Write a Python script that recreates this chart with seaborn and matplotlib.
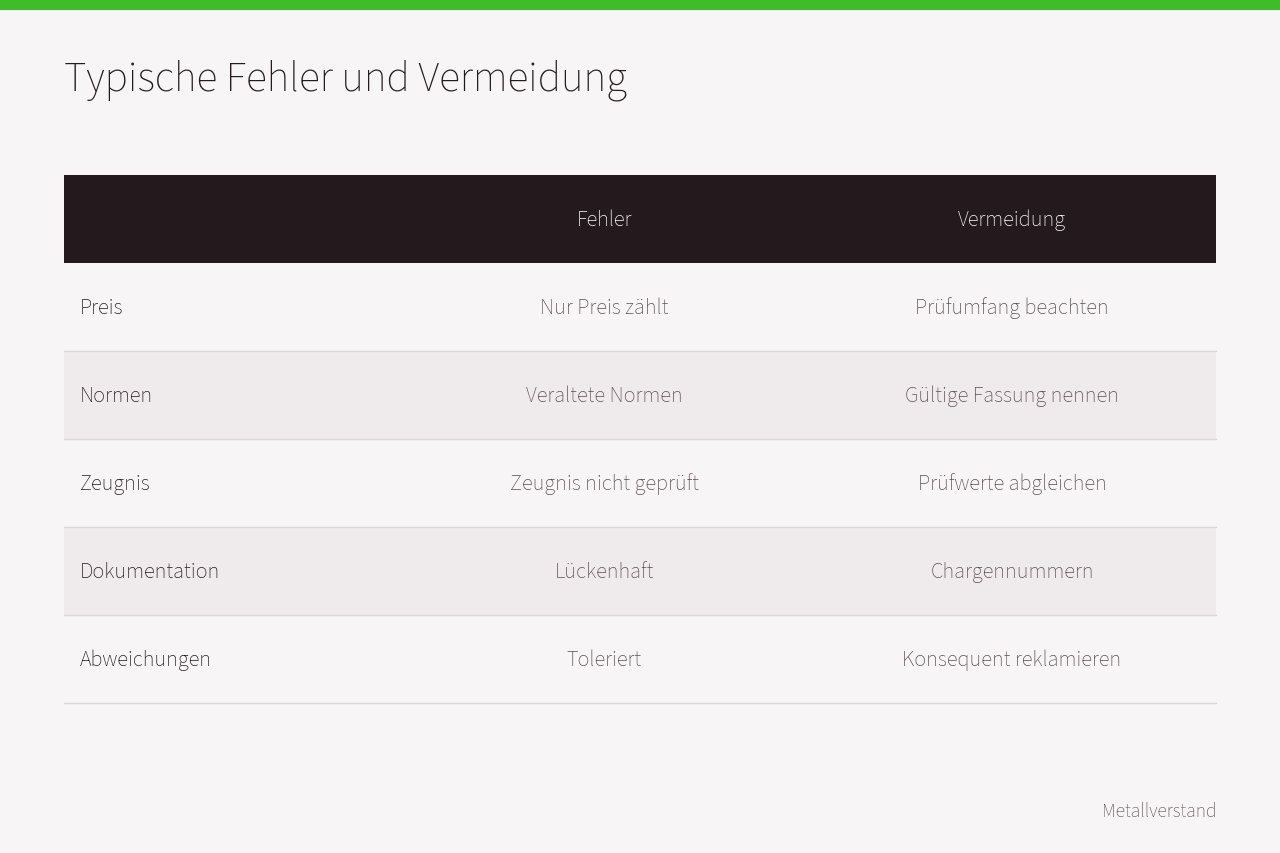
import matplotlib
matplotlib.use("Agg")
import matplotlib.pyplot as plt
import seaborn as sns
from matplotlib.patches import Rectangle

title = "Typische Fehler und Vermeidung"
columns = ["", "Fehler", "Vermeidung"]
aspects = ["Preis", "Normen", "Zeugnis", "Dokumentation", "Abweichungen"]
fehler = ["Nur Preis zählt", "Veraltete Normen", "Zeugnis nicht geprüft", "Lückenhaft", "Toleriert"]
vermeidung = ["Prüfumfang beachten", "Gültige Fassung nennen", "Prüfwerte abgleichen",
              "Chargennummern", "Konsequent reklamieren"]
source = "Metallverstand"

sns.set_theme(style="white")
plt.rcParams['font.family'] = ['Source Sans 3', 'Lato', 'DejaVu Sans']

W, H = 1280, 854
fig = plt.figure(figsize=(12.8, 8.54), dpi=100)
bg = "#F7F5F6"
fig.patch.set_facecolor(bg)
ax = fig.add_axes([0, 0, 1, 1])
ax.set_xlim(0, W); ax.set_ylim(H, 0); ax.axis("off")
ax.set_facecolor(bg)

ax.add_patch(Rectangle((0, 0), W, 11, color="#3DBE29", lw=0))
ax.text(64, 80, title, fontsize=31, color="#241A1E", va="center", ha="left")

left, right = 64, 1216
hy0, hh, rh = 176, 88, 88
colx = [80, 604, 1012]
ax.add_patch(Rectangle((left, hy0), right - left, hh, color="#241A1E", lw=0))
for i, c in enumerate(columns):
    if c:
        ax.text(colx[i], hy0 + hh / 2, c, fontsize=16, color="white", ha="center", va="center")

for r, (a, f, v) in enumerate(zip(aspects, fehler, vermeidung)):
    y0 = hy0 + hh + r * rh
    if r % 2 == 1:
        ax.add_patch(Rectangle((left, y0), right - left, rh, color="#EFEBEC", lw=0))
    ax.plot([left, right], [y0 + rh, y0 + rh], color="#DCD8D9", lw=1)
    yc = y0 + rh / 2
    ax.text(colx[0], yc, a, fontsize=16, color="#241A1E", ha="left", va="center")
    ax.text(colx[1], yc, f, fontsize=16, color="#5E4E54", ha="center", va="center")
    ax.text(colx[2], yc, v, fontsize=16, color="#5E4E54", ha="center", va="center")

ax.text(right, 812, source, fontsize=14, color="#5E4E54", ha="right", va="center")
fig.savefig("out.png", dpi=100, facecolor=bg)
